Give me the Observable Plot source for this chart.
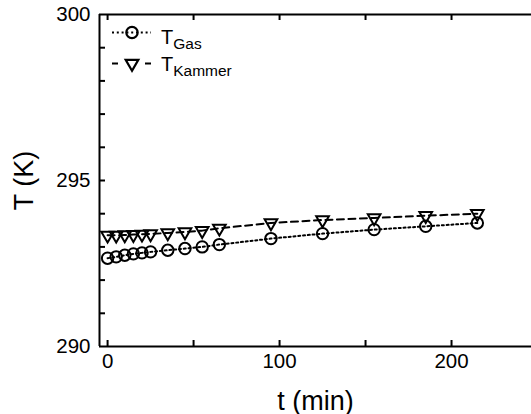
<!DOCTYPE html>
<html>
<head>
<meta charset="utf-8">
<script src="https://cdn.jsdelivr.net/npm/d3@7"></script>
<script src="https://cdn.jsdelivr.net/npm/@observablehq/plot@0.6"></script>
<style>
  body { margin: 0; background: #fff; }
  #wrap { position: relative; width: 531px; height: 414px; overflow: hidden; font-family: "Liberation Sans", Arial, sans-serif; }
  #legend { position: absolute; left: 0; top: 0; pointer-events: none; }
</style>
</head>
<body>
<div id="wrap"></div>
<script>
// ---- data ----
const times    = [0, 5, 10, 15, 20, 25, 35, 45, 55, 65, 95, 125, 155, 185, 215];
const tGas     = [292.66, 292.70, 292.75, 292.79, 292.82, 292.85, 292.90, 292.95, 293.00, 293.07, 293.25, 293.40, 293.52, 293.62, 293.72];
const tKammer  = [293.35, 293.35, 293.36, 293.37, 293.38, 293.39, 293.42, 293.45, 293.49, 293.56, 293.72, 293.81, 293.87, 293.94, 294.00];
const seriesNames = ["Gas", "Kammer"];
const xTickValues  = [0, 50, 100, 150, 200];
const xLabelValues = [0, 100, 200];
const yTickValues  = [291, 292, 293, 294, 295, 296, 297, 298, 299];
const yLabelValues = [290, 295, 300];
const xDomain = [-4.7, 246.5];
const yDomain = [290, 300];

const gasData = times.map((t, i) => ({t, T: tGas[i]}));
const kamData = times.map((t, i) => ({t, T: tKammer[i]}));

const triDown = {
  draw(ctx, size) {
    const y = Math.sqrt(size / (3 * Math.sqrt(3)));
    const w = Math.sqrt(3) * y;
    ctx.moveTo(0, 2 * y);
    ctx.lineTo(-w, -y);
    ctx.lineTo(w, -y);
    ctx.closePath();
  }
};

const font = "Liberation Sans, Arial, sans-serif";
const W = 531, H = 414, mL = 99, mR = 0, mT = 14, mB = 68;
const plotW = W - mL - mR, plotH = H - mT - mB, tickPx = 6;
const tickStyle = {stroke: "black", strokeWidth: 2};

const chart = Plot.plot({
  width: W,
  height: H,
  marginLeft: mL,
  marginRight: mR,
  marginTop: mT,
  marginBottom: mB,
  style: {fontFamily: font, color: "#000", background: "#fff"},
  x: {domain: xDomain},
  y: {domain: yDomain},
  marks: [
    // inward tick marks
    Plot.ruleX(xTickValues, {x: d => d, insetTop: plotH - tickPx, ...tickStyle}),
    Plot.ruleX(xTickValues, {x: d => d, insetBottom: plotH - tickPx, ...tickStyle}),
    Plot.ruleY(yTickValues, {y: d => d, insetRight: plotW - tickPx, ...tickStyle}),
    // axis titles
    Plot.axisX(xLabelValues, {anchor: "bottom", tickSize: 0, tickFormat: () => "",
      label: "t (min)", labelAnchor: "center", labelArrow: "none", labelOffset: 63, fontSize: 27}),
    Plot.axisY(yLabelValues, {anchor: "left", tickSize: 0, tickFormat: () => "",
      label: "T (K)", labelAnchor: "center", labelArrow: "none", labelOffset: 86, fontSize: 27}),
    // tick labels
    Plot.axisX(xLabelValues, {anchor: "bottom", tickSize: 0, tickPadding: 7, fontSize: 20.5, label: null}),
    Plot.axisY(yLabelValues, {anchor: "left", tickSize: 0, tickPadding: 9, fontSize: 20.5, label: null}),
    // frame (left, bottom, top; right side runs off the image)
    Plot.ruleX([xDomain[0]], {stroke: "black", strokeWidth: 2}),
    Plot.ruleY(yDomain, {stroke: "black", strokeWidth: 2}),
    Plot.line(gasData, {x: "t", y: "T", stroke: "black", strokeWidth: 2, strokeDasharray: "2,2.8"}),
    Plot.line(kamData, {x: "t", y: "T", stroke: "black", strokeWidth: 2, strokeDasharray: "7,4.5"}),
    Plot.dot(gasData, {x: "t", y: "T", r: 5.7, stroke: "black", strokeWidth: 2, fill: "none"}),
    Plot.dot(kamData, {x: "t", y: "T", r: 4.7, symbol: triDown, stroke: "black", strokeWidth: 2, fill: "none"})
  ]
});

const wrap = document.getElementById("wrap");
wrap.appendChild(chart);

// ---- legend ----
const legend = d3.select(wrap).append("svg")
  .attr("id", "legend").attr("width", W).attr("height", H)
  .style("font-family", font);

const rows = [
  {name: seriesNames[0], y: 32.5, base: 44.3, dash: "2,2.8", sym: d3.symbol(d3.symbolCircle, Math.PI * 5.7 * 5.7)},
  {name: seriesNames[1], y: 63.5, base: 71, dash: "6,27", sym: d3.symbol(triDown, Math.PI * 4.7 * 4.7)}
];
rows.forEach(r => {
  const g = legend.append("g");
  g.append("line").attr("x1", 112).attr("x2", 151).attr("y1", r.y).attr("y2", r.y)
    .attr("stroke", "black").attr("stroke-width", 2).attr("stroke-dasharray", r.dash);
  g.append("path").attr("d", r.sym()).attr("transform", `translate(132,${r.y})`)
    .attr("fill", "none").attr("stroke", "black").attr("stroke-width", 2.2);
  const t = g.append("text").attr("x", 161).attr("y", r.base).attr("font-size", 20).attr("fill", "black");
  t.append("tspan").text("T");
  t.append("tspan").attr("font-size", 15.5).attr("dy", 4.5).text(r.name);
});
</script>
</body>
</html>
